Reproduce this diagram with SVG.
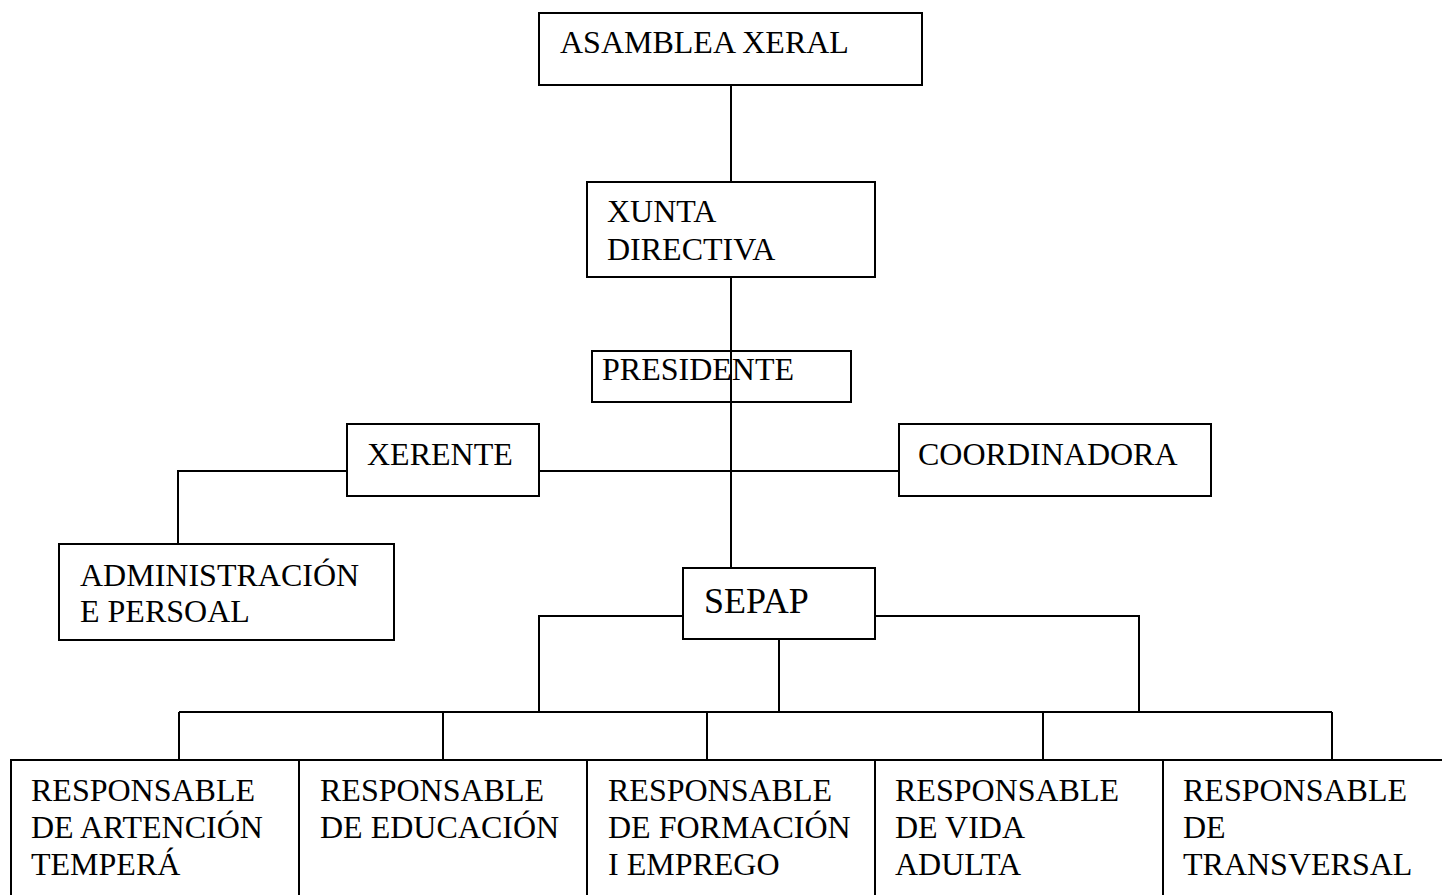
<svg xmlns="http://www.w3.org/2000/svg" width="1442" height="895" viewBox="0 0 1442 895">
<style>
.box{fill:#fff;stroke:#000;stroke-width:2}
.ln{fill:none;stroke:#000;stroke-width:2}
text{font-family:"Liberation Serif","Times New Roman",serif;font-size:32px;fill:#000}
.big{font-size:36px}
</style>
<rect width="1442" height="895" fill="#fff"/>
<g id="connectors">
<line class="ln" x1="731" y1="85" x2="731" y2="182"/>
<line class="ln" x1="731" y1="277" x2="731" y2="568"/>
<polyline class="ln" points="347,471 178,471 178,544"/>
<line class="ln" x1="539" y1="471" x2="899" y2="471"/>
<polyline class="ln" points="683,616 539,616 539,712"/>
<polyline class="ln" points="875,616 1139,616 1139,712"/>
<line class="ln" x1="779" y1="640" x2="779" y2="712"/>
<line class="ln" x1="179" y1="712" x2="1332" y2="712"/>
<line class="ln" x1="179" y1="712" x2="179" y2="760"/>
<line class="ln" x1="443" y1="712" x2="443" y2="760"/>
<line class="ln" x1="707" y1="712" x2="707" y2="760"/>
<line class="ln" x1="1043" y1="712" x2="1043" y2="760"/>
<line class="ln" x1="1332" y1="712" x2="1332" y2="760"/>
</g>
<g id="asamblea">
<rect class="box" x="539" y="13" width="383" height="72"/>
<text x="560" y="53">ASAMBLEA XERAL</text>
</g>
<g id="xunta">
<rect class="box" x="587" y="182" width="288" height="95"/>
<text x="607" y="222">XUNTA</text>
<text x="607" y="260">DIRECTIVA</text>
</g>
<g id="presidente">
<rect class="ln" x="592" y="351" width="259" height="51"/>
<text x="602" y="380">PRESIDENTE</text>
</g>
<g id="xerente">
<rect class="box" x="347" y="424" width="192" height="72"/>
<text x="367" y="465">XERENTE</text>
</g>
<g id="coordinadora">
<rect class="box" x="899" y="424" width="312" height="72"/>
<text x="918" y="465">COORDINADORA</text>
</g>
<g id="administracion">
<rect class="box" x="59" y="544" width="335" height="96"/>
<text x="80" y="586">ADMINISTRACIÓN</text>
<text x="80" y="622">E PERSOAL</text>
</g>
<g id="sepap">
<rect class="box" x="683" y="568" width="192" height="71"/>
<text class="big" x="704" y="613">SEPAP</text>
</g>
<g id="resp-atencion">
<rect class="box" x="11" y="760" width="288" height="150"/>
<text x="31" y="801">RESPONSABLE</text>
<text x="31" y="838">DE ARTENCIÓN</text>
<text x="31" y="875">TEMPERÁ</text>
</g>
<g id="resp-educacion">
<rect class="box" x="299" y="760" width="288" height="150"/>
<text x="320" y="801">RESPONSABLE</text>
<text x="320" y="838">DE EDUCACIÓN</text>
</g>
<g id="resp-formacion">
<rect class="box" x="587" y="760" width="288" height="150"/>
<text x="608" y="801">RESPONSABLE</text>
<text x="608" y="838">DE FORMACIÓN</text>
<text x="608" y="875">I EMPREGO</text>
</g>
<g id="resp-vida">
<rect class="box" x="875" y="760" width="288" height="150"/>
<text x="895" y="801">RESPONSABLE</text>
<text x="895" y="838">DE VIDA</text>
<text x="895" y="875">ADULTA</text>
</g>
<g id="resp-transversal">
<rect class="box" x="1163" y="760" width="300" height="150"/>
<text x="1183" y="801">RESPONSABLE</text>
<text x="1183" y="838">DE</text>
<text x="1183" y="875">TRANSVERSAL</text>
</g>
</svg>
